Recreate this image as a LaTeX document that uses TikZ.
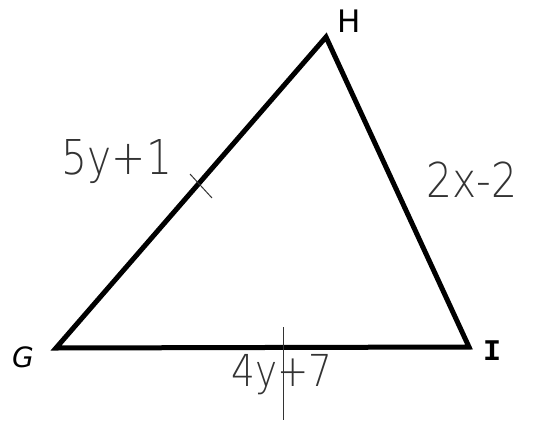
\documentclass[tikz,border=0pt]{standalone}
\usepackage{fontspec}
\setmainfont{DejaVu Sans}
\newfontfamily\hand{DejaVu Sans ExtraLight}
\newfontfamily\monof{Liberation Mono}
\begin{document}
\begin{tikzpicture}[x=1pt,y=-1pt,
  edge/.style={line width=5pt,line join=miter},
  vlabel/.style={font=\fontsize{31}{31}\selectfont,inner sep=0pt},
  hlabel/.style={font=\hand\fontsize{48}{48}\selectfont,inner sep=0pt,text=black!80,xscale=0.85},
  tick/.style={line width=1pt,black!80}]
\useasboundingbox (0,0) rectangle (537,428);
\coordinate (G) at (56,348);
\coordinate (H) at (326,37);
\coordinate (I) at (469,347);
\draw[edge] (G) -- (H) -- (I) -- cycle;
\node[vlabel] (lH) at (349,21) {H};
\node[vlabel,font=\itshape\fontsize{28}{28}\selectfont] (lG) at (23,357) {G};
\node[vlabel,font=\monof\bfseries\fontsize{30}{30}\selectfont] (lI) at (492,351) {I};
\node[hlabel] (s1) at (117,162) {5y+1};
\node[hlabel] (s2) at (472,180) {2x-2};
\node[hlabel,font=\hand\fontsize{44}{44}\selectfont] (s3) at (282,375) {4y+7};
\coordinate (t1a) at (190,174);
\coordinate (t1b) at (212,198);
\draw[tick] (t1a) -- (t1b);
\coordinate (t2a) at (283,327);
\coordinate (t2b) at (283,420);
\draw[tick] (t2a) -- (t2b);
\end{tikzpicture}
\end{document}
